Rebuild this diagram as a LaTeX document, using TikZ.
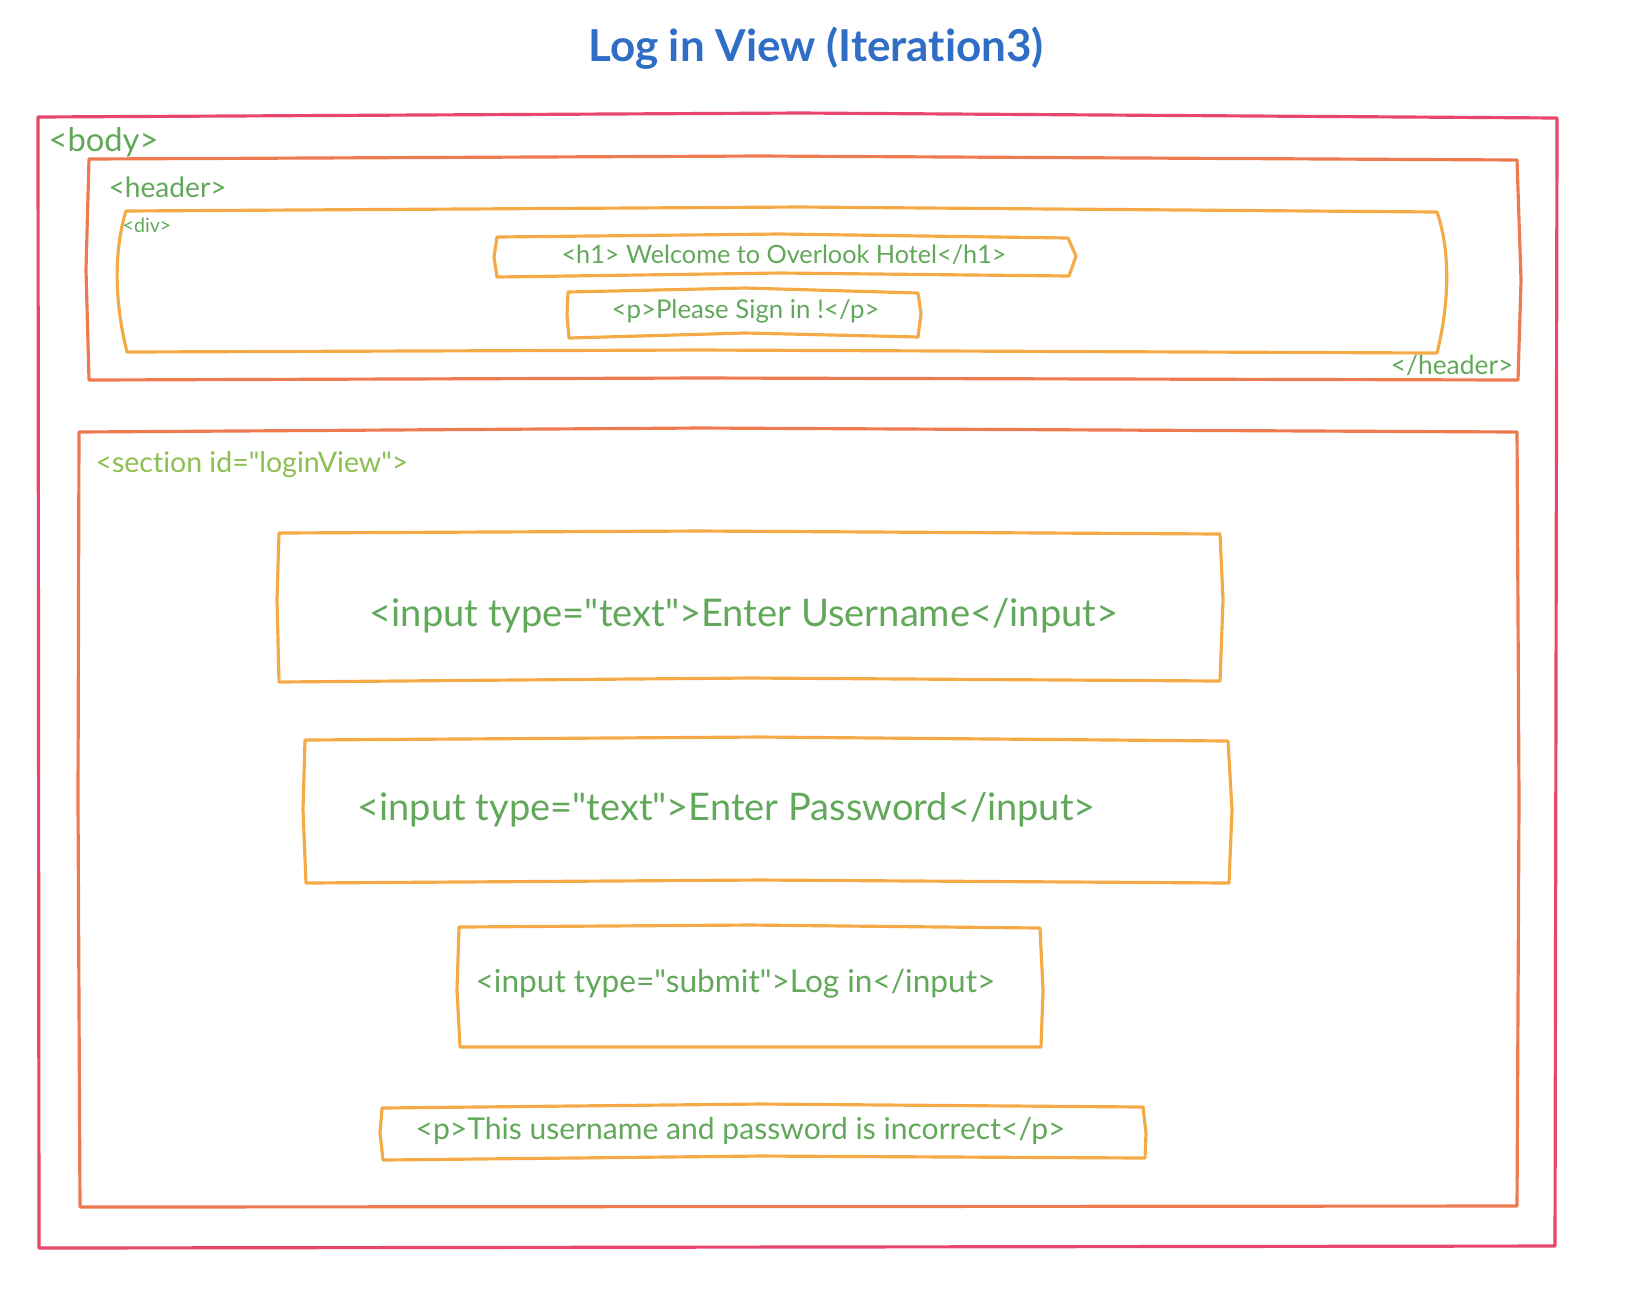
\documentclass[tikz,border=0pt]{standalone}
\usepackage{fontspec}
\setmainfont{Lato}[Ligatures={TeXOff,CommonOff}]
\definecolor{titleblue}{RGB}{47,110,196}
\definecolor{bodyred}{RGB}{232,70,106}
\definecolor{headorange}{RGB}{238,122,80}
\definecolor{elorange}{RGB}{244,170,70}
\definecolor{taggreen}{RGB}{98,168,90}
\definecolor{secgreen}{RGB}{140,190,80}
\tikzset{
	bodyline/.style={
		draw=bodyred
	},
	headline/.style={
		draw=headorange
	},
	elline/.style={
		draw=elorange
	},
	tag/.style={
		text=taggreen,
		inner sep=0pt,
		anchor=base west
	}
}

\begin{document}
\begin{tikzpicture}[x=0.01cm, y=-0.01cm, line width=0.9pt, line join=round, line cap=round]
		\useasboundingbox (0,0) rectangle (1640,1296);
		\node[text=titleblue, inner sep=0pt, anchor=base, font=\fontsize{12.5}{15}\selectfont\bfseries] (title) at (816,61) {Log in View (Iteration3)};
		
		% body
		\draw[bodyline] (38,117) -- (800,113) -- (1557,118) -- (1555,1246) -- (39,1248) -- cycle;
		\node[tag, font=\fontsize{9.3}{11}\selectfont] (bodytag) at (47,151) {<body>};
		
		% header
		\draw[headline] (89,159) -- (760,156) -- (1517,160) -- (1521,280) -- (1518,380) -- (700,378) -- (89,380) -- (86,270) -- cycle;
		\node[tag, font=\fontsize{8}{10}\selectfont] (headtag) at (107,197) {<header>};
		\node[tag, anchor=base east, font=\fontsize{7.5}{9}\selectfont] (headend) at (1515,374) {</header>};
		\draw[elline] (126,211) -- (800,207) -- (1437,212) .. controls (1450,250) and (1450,300) .. (1437,353) -- (700,350) -- (127,352) .. controls (114,300) and (114,250) .. (126,211);
		\node[tag, font=\fontsize{5.6}{7}\selectfont] (divtag) at (121,232) {<div>};
		\draw[elline] (497,237) -- (780,234) -- (1068,238) -- (1076,256) -- (1069,276) -- (780,273) -- (497,277) -- (494,257) -- cycle;
		\node[tag, font=\fontsize{7.18}{9}\selectfont] (h1tag) at (560,263) {<h1> Welcome to Overlook Hotel</h1>};
		\draw[elline] (568,292) -- (745,288) -- (918,293) -- (921,314) -- (918,337) -- (745,333) -- (569,338) -- (567,315) -- cycle;
		\node[tag, font=\fontsize{7.34}{9}\selectfont] (ptag) at (610,318) {<p>Please Sign in !</p>};
		
		% section
		\draw[headline] (79,432) -- (700,428) -- (1517,432) -- (1519,800) -- (1517,1206) -- (80,1207) -- (78,800) -- cycle;
		\node[tag, text=secgreen, font=\fontsize{8.1}{10}\selectfont] (sectag) at (94,472) {<section id="loginView">};
		
		\draw[elline] (279,533) -- (700,531) -- (1220,534) -- (1223,600) -- (1220,681) -- (750,678) -- (279,682) -- (277,600) -- cycle;
		\node[tag, font=\fontsize{10.83}{13}\selectfont] (usertag) at (368,626) {<input type="text">Enter Username</input>};
		
		\draw[elline] (305,740) -- (760,737) -- (1228,741) -- (1232,810) -- (1229,883) -- (760,880) -- (306,883) -- (303,810) -- cycle;
		\node[tag, font=\fontsize{10.81}{13}\selectfont] (passtag) at (356,820) {<input type="text">Enter Password</input>};
		
		\draw[elline] (459,927) -- (750,925) -- (1040,928) -- (1043,990) -- (1041,1047) -- (460,1047) -- (457,990) -- cycle;
		\node[tag, font=\fontsize{8.99}{11}\selectfont] (subtag) at (474,992) {<input type="submit">Log in</input>};
		
		\draw[elline] (382,1108) -- (760,1104) -- (1143,1107) -- (1146,1133) -- (1145,1158) -- (760,1156) -- (383,1160) -- (380,1133) -- cycle;
		\node[tag, font=\fontsize{8.55}{10}\selectfont] (errtag) at (414,1139) {<p>This username and password is incorrect</p>};
\end{tikzpicture}
\end{document}
